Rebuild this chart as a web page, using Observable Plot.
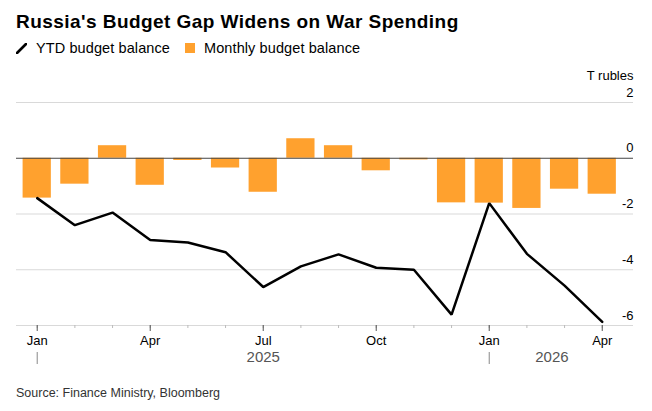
<!DOCTYPE html>
<html><head><meta charset="utf-8">
<script src="https://cdn.jsdelivr.net/npm/d3@7"></script>
<script src="https://cdn.jsdelivr.net/npm/@observablehq/plot@0.6"></script>
<style>
body{margin:0;background:#fff;font-family:"Liberation Sans",Arial,sans-serif;width:652px;height:411px;position:relative;overflow:hidden;color:#000}
#title{position:absolute;left:16px;top:9px;font-size:19px;letter-spacing:0.45px;font-weight:bold;line-height:25px;white-space:nowrap}
#legend{position:absolute;left:16px;top:38px;height:20px;font-size:14.5px;letter-spacing:0.1px;line-height:20px;display:flex;align-items:center;white-space:nowrap}
#legend .item{display:flex;align-items:center;margin-right:15px}
#legend svg{margin-right:9px}
#chart{position:absolute;left:0;top:60px}
#source{position:absolute;left:16px;top:385px;font-size:12.5px;line-height:16px;color:#333;white-space:nowrap}
</style></head>
<body>
<div id="title">Russia's Budget Gap Widens on War Spending</div>
<div id="legend">
  <div class="item"><svg width="11" height="11"><line x1="1" y1="10" x2="10" y2="1" stroke="#000" stroke-width="2.6" stroke-linecap="round"/></svg>YTD budget balance</div>
  <div class="item"><svg width="10" height="10"><rect width="10" height="10" fill="#FFA12E"/></svg>Monthly budget balance</div>
</div>
<div id="chart"></div>
<div id="source">Source: Finance Ministry, Bloomberg</div>
<script>
const monthLabels = ["Jan","Feb","Mar","Apr","May","Jun","Jul","Aug","Sep","Oct","Nov","Dec","Jan","Feb","Mar","Apr"];
const years = [2025,2025,2025,2025,2025,2025,2025,2025,2025,2025,2025,2025,2026,2026,2026,2026];
const monthly = [-1.43,-0.93,0.45,-0.97,-0.08,-0.35,-1.22,0.70,0.45,-0.45,-0.06,-1.60,-1.61,-1.80,-1.11,-1.29];
const ytd = [-1.43,-2.40,-1.95,-2.93,-3.02,-3.37,-4.62,-3.88,-3.45,-3.93,-4.00,-5.61,-1.61,-3.43,-4.57,-5.87];
const yTicks = [-6,-4,-2,0,2];
const labeledMonths = ["Jan","Apr","Jul","Oct"];
const yUnit = "T rubles";

const data = monthLabels.map((m, i) => ({i, month: m, year: years[i], monthly: monthly[i], ytd: ytd[i]}));
const xDomain = [-0.55, data.length - 1 + 0.83];
const majorIdx = data.filter(d => labeledMonths.includes(d.month)).map(d => d.i);
const yearStarts = data.filter((d, i) => i === 0 || years[i] !== years[i - 1]);
const yearData = yearStarts.map(d => {
  const a = Math.max(d.i - 0.5, xDomain[0]), b = Math.min(d.i + 12.5, xDomain[1]);
  return {year: String(d.year), x: (a + b) / 2};
});

const chart = Plot.plot({
  width: 652, height: 312,
  marginLeft: 16, marginRight: 19, marginTop: 42, marginBottom: 47,
  style: {fontFamily: '"Liberation Sans", Arial, sans-serif', background: "#fff"},
  x: {type: "linear", domain: xDomain},
  y: {domain: [-6, 2], axis: null},
  marks: [
    Plot.ruleY(yTicks.filter(t => t !== 0), {stroke: "#d9d9d9", strokeWidth: 1.2}),
    Plot.rectY(data, {x1: d => d.i - 0.375, x2: d => d.i + 0.375, y1: 0, y2: "monthly", fill: "#FFA12E"}),
    Plot.ruleY([0], {stroke: "#444", strokeWidth: 1}),
    Plot.line(data, {x: "i", y: "ytd", stroke: "#000", strokeWidth: 2.5, strokeLinejoin: "miter"}),
    Plot.text(yTicks, {y: d => d, text: d => String(d), frameAnchor: "right", textAnchor: "end", lineAnchor: "bottom", dy: -6, fontSize: 13, fill: "#000"}),
    Plot.text([yUnit], {text: d => d, frameAnchor: "top-right", textAnchor: "end", dy: -32, fontSize: 13, fill: "#000"}),
    Plot.axisX(data.map(d => d.i), {ticks: data.map(d => d.i), tickSize: 3, stroke: "#bbb", tickFormat: () => "", label: null}),
    Plot.axisX(majorIdx, {ticks: majorIdx, tickSize: 6, stroke: "#555", tickPadding: 4, tickFormat: i => monthLabels[i], fontSize: 13, fill: "#000", label: null}),
    Plot.axisX(yearStarts.map(d => d.i), {ticks: yearStarts.map(d => d.i), tickSize: 12, dy: 27, stroke: "#888", tickFormat: () => "", label: null}),
    Plot.text(yearData, {x: "x", text: "year", frameAnchor: "bottom", lineAnchor: "middle", dy: 32, fontSize: 15, fill: "#555"})
  ]
});
document.getElementById("chart").appendChild(chart);
</script>
</body></html>
